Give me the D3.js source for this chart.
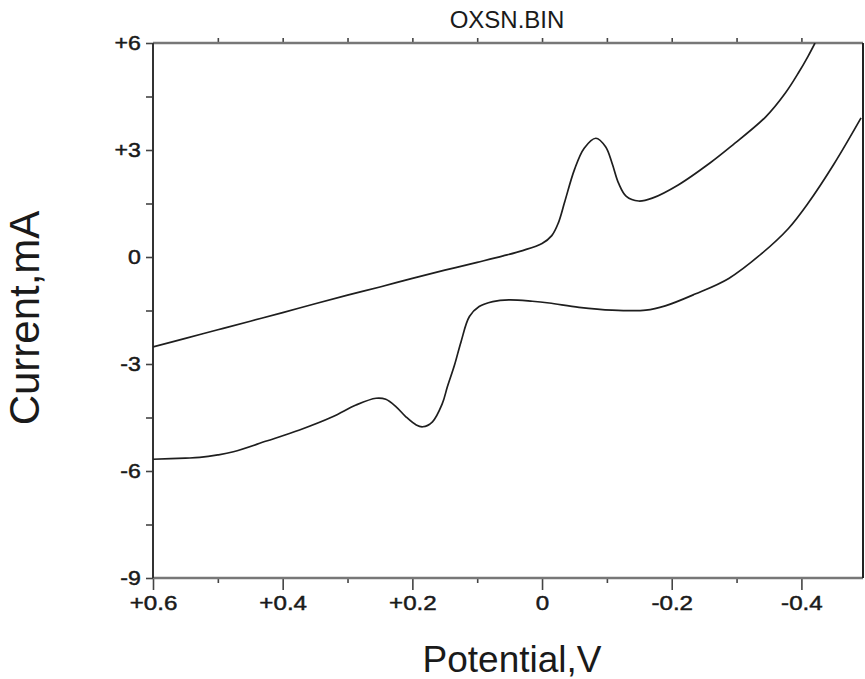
<!DOCTYPE html>
<html>
<head>
<meta charset="utf-8">
<script src="https://cdn.jsdelivr.net/npm/d3@7"></script>
<style>
  html, body { margin: 0; padding: 0; background: #fff; }
  svg { display: block; }
  text { font-family: "Liberation Sans", Arial, sans-serif; fill: #1a1a1a; }
</style>
</head>
<body>
<svg id="chart" width="865" height="679"></svg>
<script>
// Cyclic voltammogram, file OXSN.BIN
const title = "OXSN.BIN";
const xTitle = "Potential,V";
const yTitle = "Current,mA";

// Upper branch: potential (V) and current (mA)
const upperV = [0.60, 0.55, 0.50, 0.45, 0.40, 0.35, 0.30, 0.25, 0.20, 0.15, 0.10, 0.06, 0.03, 0.00,
  -0.015, -0.025, -0.035, -0.05, -0.065, -0.083, -0.098, -0.108, -0.118, -0.13, -0.149, -0.17,
  -0.21, -0.26, -0.29, -0.345, -0.375, -0.395, -0.41, -0.421];
const upperI = [-2.52, -2.28, -2.04, -1.80, -1.56, -1.31, -1.07, -0.84, -0.60, -0.37, -0.15, 0.03, 0.18, 0.38,
  0.60, 0.95, 1.55, 2.45, 3.05, 3.33, 3.09, 2.63, 2.07, 1.70, 1.57, 1.65,
  2.02, 2.65, 3.08, 3.93, 4.59, 5.15, 5.62, 6.0];

// Lower branch: potential (V) and current (mA)
const lowerV = [0.60, 0.55, 0.528, 0.50, 0.476, 0.425, 0.374, 0.323, 0.287, 0.256, 0.241, 0.225, 0.21,
  0.194, 0.184, 0.169, 0.154, 0.146, 0.135, 0.125, 0.112, 0.097, 0.076, 0.051, 0.015, -0.011, -0.057,
  -0.108, -0.16, -0.19, -0.236, -0.288, -0.339, -0.38, -0.41, -0.45, -0.492];
const lowerI = [-5.67, -5.64, -5.62, -5.55, -5.46, -5.16, -4.85, -4.48, -4.15, -3.96, -3.99, -4.20, -4.48,
  -4.71, -4.76, -4.62, -4.12, -3.64, -3.03, -2.38, -1.67, -1.39, -1.25, -1.20, -1.24, -1.29, -1.41,
  -1.49, -1.49, -1.37, -1.04, -0.60, 0.10, 0.80, 1.50, 2.60, 3.90];

// Axis ticks
const xMajor = [0.6, 0.4, 0.2, 0, -0.2, -0.4];
const xMajorLabels = ["+0.6", "+0.4", "+0.2", "0", "-0.2", "-0.4"];
const xMinor = [0.5, 0.3, 0.1, -0.1, -0.3];
const xTop = [0.5, 0.4, 0.3, 0.2, 0.1, 0, -0.1, -0.2, -0.3, -0.4];
const yMajor = [6, 3, 0, -3, -6, -9];
const yMajorLabels = ["+6", "+3", "0", "-3", "-6", "-9"];
const yMinor = [4.5, 1.5, -1.5, -4.5, -7.5];

const svg = d3.select("#chart");
const plotLeft = 153, plotRight = 863, plotTop = 43, plotBottom = 578;

const x = d3.scaleLinear().domain([0.6, -0.495]).range([plotLeft, plotRight]);
const y = d3.scaleLinear().domain([-9, 6]).range([plotBottom, plotTop]);

const axisColor = "#444";
const labelStyle = sel => sel.attr("font-size", 21).attr("fill", "#1a1a1a")
  .attr("stroke", "#1a1a1a").attr("stroke-width", 0.5);

// Bottom axis
const gx = svg.append("g").attr("transform", `translate(0,${plotBottom})`)
  .call(d3.axisBottom(x).tickValues(xMajor).tickSize(12).tickPadding(5)
    .tickFormat((d, i) => xMajorLabels[i]));
gx.select(".domain").remove();
gx.selectAll(".tick line").attr("stroke", axisColor).attr("stroke-width", 1.6);
gx.selectAll(".tick text").call(labelStyle).attr("transform", "scale(1.15,1)");
svg.append("g").attr("transform", `translate(0,${plotBottom})`)
  .call(d3.axisBottom(x).tickValues(xMinor).tickSize(5).tickFormat(""))
  .call(g => g.select(".domain").remove())
  .selectAll(".tick line").attr("stroke", axisColor).attr("stroke-width", 1.6);

// Top axis, small upward ticks
svg.append("g").attr("transform", `translate(0,${plotTop})`)
  .call(d3.axisTop(x).tickValues(xTop).tickSize(5).tickFormat(""))
  .call(g => g.select(".domain").remove())
  .selectAll(".tick line").attr("stroke", axisColor).attr("stroke-width", 1.6);

// Left axis
const gy = svg.append("g").attr("transform", `translate(${plotLeft},0)`)
  .call(d3.axisLeft(y).tickValues(yMajor).tickSize(7).tickPadding(4)
    .tickFormat((d, i) => yMajorLabels[i]));
gy.select(".domain").remove();
gy.selectAll(".tick line").attr("stroke", axisColor).attr("stroke-width", 1.6);
gy.selectAll(".tick text").call(labelStyle).attr("transform", "scale(1.1,1)");
svg.append("g").attr("transform", `translate(${plotLeft},0)`)
  .call(d3.axisLeft(y).tickValues(yMinor).tickSize(7).tickFormat(""))
  .call(g => g.select(".domain").remove())
  .selectAll(".tick line").attr("stroke", axisColor).attr("stroke-width", 1.6);

// Plot frame
svg.append("line").attr("x1", plotLeft).attr("x2", plotRight).attr("y1", plotTop).attr("y2", plotTop)
  .attr("stroke", "#777").attr("stroke-width", 2.5);
svg.append("line").attr("x1", plotLeft).attr("x2", plotRight).attr("y1", plotBottom).attr("y2", plotBottom)
  .attr("stroke", "#777").attr("stroke-width", 2.5);
svg.append("line").attr("x1", plotLeft).attr("x2", plotLeft).attr("y1", plotTop).attr("y2", plotBottom)
  .attr("stroke", "#333").attr("stroke-width", 2);
svg.append("line").attr("x1", plotRight).attr("x2", plotRight).attr("y1", plotTop).attr("y2", plotBottom)
  .attr("stroke", "#222").attr("stroke-width", 2);

// Curves
const line = d3.line().x(d => x(d[0])).y(d => y(d[1])).curve(d3.curveCatmullRom.alpha(0.5));
const upper = upperV.map((v, i) => [v, upperI[i]]);
const lower = lowerV.map((v, i) => [v, lowerI[i]]);
svg.append("clipPath").attr("id", "plotClip").append("rect")
  .attr("x", plotLeft).attr("y", plotTop).attr("width", plotRight - plotLeft).attr("height", plotBottom - plotTop);
const curves = svg.append("g").attr("clip-path", "url(#plotClip)");
[upper, lower].forEach(data => {
  curves.append("path").datum(data).attr("d", line)
    .attr("fill", "none").attr("stroke", "#1e1e1e").attr("stroke-width", 1.7);
});

// Titles
svg.append("text").attr("x", 507).attr("y", 28).attr("text-anchor", "middle")
  .attr("font-size", 24).text(title);
svg.append("text").attr("x", 512).attr("y", 672).attr("text-anchor", "middle")
  .attr("font-size", 37).text(xTitle);
svg.append("text").attr("transform", "translate(39,318) rotate(-90)").attr("text-anchor", "middle")
  .attr("font-size", 42).text(yTitle);
</script>
</body>
</html>
